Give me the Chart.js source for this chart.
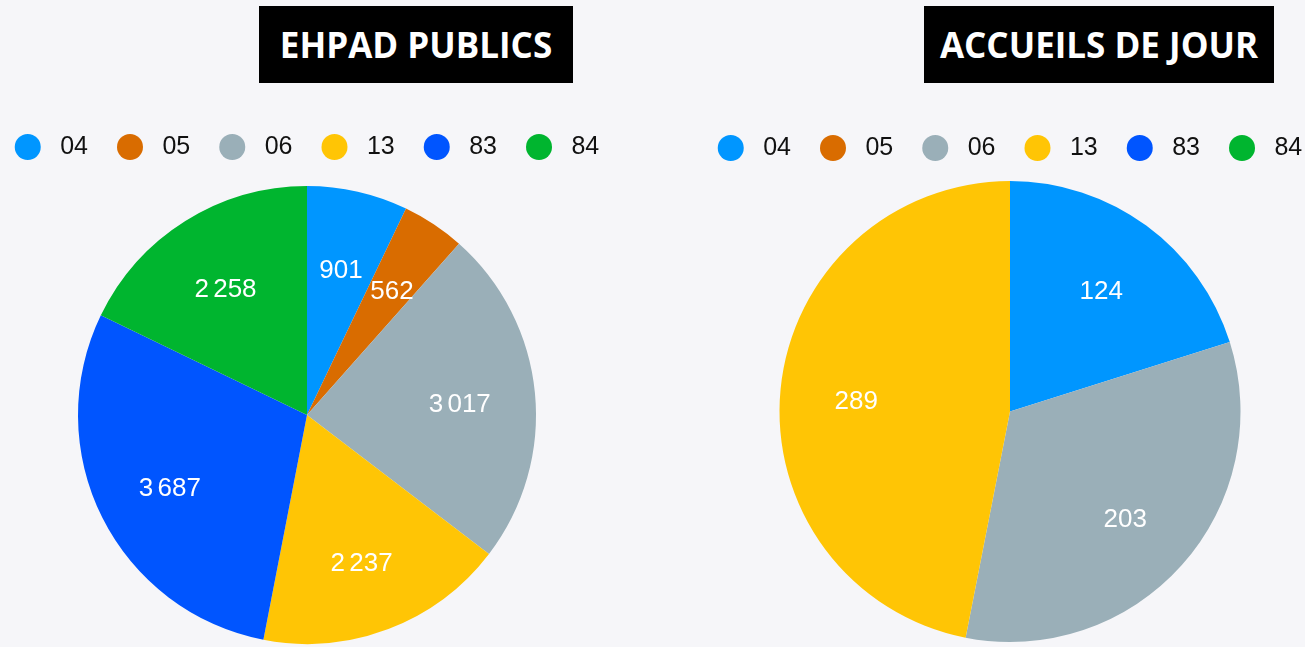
<!DOCTYPE html>
<html>
<head>
<meta charset="utf-8">
<script src="https://cdn.jsdelivr.net/npm/chart.js@4"></script>
<style>
  html, body { margin: 0; padding: 0; }
  body { width: 1305px; height: 647px; background: #f6f6f9; position: relative; overflow: hidden; }
  .titre {
    position: absolute; top: 6px; height: 77px; background: #000; color: #fff;
    font-family: 'Open Sans', sans-serif; font-weight: 700; font-size: 35px;
    display: flex; align-items: center; justify-content: center; z-index: 2;
  }
  .wrap { position: absolute; top: 0; width: 700px; height: 647px; }
</style>
</head>
<body>
<div class="titre" style="left:259px;width:314px">EHPAD PUBLICS</div>
<div class="titre" style="left:924px;width:350px">ACCUEILS DE JOUR</div>
<div class="wrap" style="left:-43px"><canvas id="chart-ehpad"></canvas></div>
<div class="wrap" style="left:660px"><canvas id="chart-accueils"></canvas></div>
<script>
const departements = ['04', '05', '06', '13', '83', '84'];
const ehpadValues = [901, 562, 3017, 2237, 3687, 2258];
const accueilValues = [124, 0, 203, 289, 0, 0];
const colors = ['#0096ff', '#d96c00', '#9aafb8', '#ffc505', '#0055ff', '#00b52f'];

const labelFont = 'Liberation Sans, Arial, sans-serif';

function formatFr(v) {
    return String(v).replace(/\B(?=(\d{3})+(?!\d))/g, '\u2006');
}

// value labels inside the slices
const sliceLabels = {
    id: 'sliceLabels',
    afterDatasetsDraw(chart) {
        const ctx = chart.ctx;
        const meta = chart.getDatasetMeta(0);
        const data = chart.data.datasets[0].data;
        ctx.save();
        ctx.fillStyle = '#fff';
        ctx.font = '26px ' + labelFont;
        ctx.textAlign = 'center';
        ctx.textBaseline = 'middle';
        meta.data.forEach((arc, i) => {
            if (!data[i]) return;
            const p = arc.getProps(['x', 'y', 'startAngle', 'endAngle', 'outerRadius'], true);
            const mid = (p.startAngle + p.endAngle) / 2;
            const r = p.outerRadius * 0.67;
            ctx.fillText(formatFr(data[i]), p.x + Math.cos(mid) * r, p.y + Math.sin(mid) * r + 5);
        });
        ctx.restore();
    }
};

function legendGap(extra) {
    return {
        id: 'legendGap',
        beforeInit(chart) {
            const fit = chart.legend.fit;
            chart.legend.fit = function () {
                fit.bind(chart.legend)();
                this.height += extra;
            };
        }
    };
}

function loadPie(id, values, padTop, padBottom, gap) {
    const ctx = document.getElementById(id).getContext('2d');
    return new Chart(ctx, {
        type: 'pie',
        data: {
            labels: departements,
            datasets: [{
                data: values,
                backgroundColor: colors,
                borderWidth: 0
            }]
        },
        options: {
            responsive: true,
            maintainAspectRatio: false,
            animation: false,
            layout: { padding: { top: padTop, bottom: padBottom } },
            plugins: {
                tooltip: { enabled: false },
                legend: {
                    position: 'top',
                    labels: {
                        usePointStyle: true,
                        pointStyle: 'circle',
                        pointStyleWidth: 26,
                        boxHeight: 18.4,
                        padding: 29,
                        color: '#111',
                        font: { size: 25, family: labelFont },
                        generateLabels(chart) {
                            const items = Chart.overrides.pie.plugins.legend.labels.generateLabels(chart);
                            items.forEach(it => { it.text = ' ' + it.text; it.hidden = false; it.lineWidth = 0; });
                            return items;
                        }
                    }
                }
            }
        },
        plugins: [sliceLabels, legendGap(gap)]
    });
}

loadPie('chart-ehpad', ehpadValues, 105.5, 3, 16.5);
loadPie('chart-accueils', accueilValues, 106.5, 5, 10.5);
</script>
</body>
</html>
